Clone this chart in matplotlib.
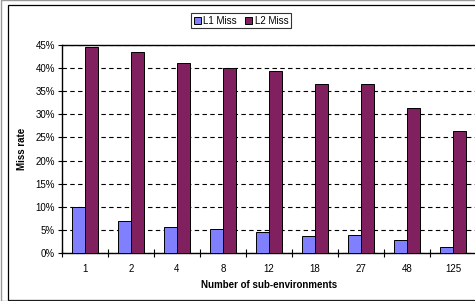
import numpy as np
import matplotlib.pyplot as plt
from matplotlib.patches import Rectangle

# values
categories = ["1", "2", "4", "8", "12", "18", "27", "48", "125"]
l1_miss = [10.0, 6.9, 5.6, 5.3, 4.5, 3.6, 3.8, 2.8, 1.4]
l2_miss = [44.6, 43.4, 41.2, 40.1, 39.4, 36.6, 36.6, 31.4, 26.5]
yticks = [0, 5, 10, 15, 20, 25, 30, 35, 40, 45]

plt.rcParams['font.family'] = ['Liberation Sans', 'DejaVu Sans']
plt.rcParams['font.size'] = 7

fig = plt.figure(figsize=(4.75, 3.01), dpi=100)
ax = fig.add_axes([62 / 475, 1 - 253 / 301, 414 / 475, 208 / 301])

x = np.arange(len(categories))
w = 0.28
ax.bar(x - w / 2, l1_miss, w, color="#8080FF", edgecolor="black", linewidth=0.7, label="L1 Miss", zorder=3)
ax.bar(x + w / 2, l2_miss, w, color="#80205F", edgecolor="black", linewidth=0.7, label="L2 Miss", zorder=3)

ax.set_xlim(-0.5, len(categories) - 0.5)
ax.set_ylim(0, 45)
ax.set_yticks(yticks)
ax.set_yticklabels([f"{v}%" for v in yticks])
ax.yaxis.grid(True, linestyle=(0, (4, 3)), color="black", linewidth=0.8, zorder=0)

# category labels in the middle, tick marks on the boundaries
ax.set_xticks(x)
ax.set_xticklabels(categories)
ax.tick_params(axis="x", length=0, pad=8)
ax.set_xticks(np.arange(len(categories) + 1) - 0.5, minor=True)
ax.tick_params(axis="x", which="minor", length=6, direction="inout", width=0.8)
ax.tick_params(axis="y", length=3, width=0.8, pad=2)

for side in ["right"]:
    ax.spines[side].set_visible(False)
for side in ["left", "bottom", "top"]:
    ax.spines[side].set_linewidth(1.0)

ax.set_xlabel("Number of sub-environments", fontweight="bold", labelpad=4)
ax.set_ylabel("Miss rate", fontweight="bold", labelpad=6)

leg = ax.legend(loc="center", bbox_to_anchor=(241 / 475, 1 - 20.5 / 301), bbox_transform=fig.transFigure,
                ncol=2, frameon=True, fancybox=False, edgecolor="black", handlelength=0.7, handleheight=0.7,
                handletextpad=0.3, columnspacing=0.8, borderpad=0.3, fontsize=7)
leg.get_frame().set_linewidth(0.8)

# outer chart frame
fig.patches.append(Rectangle((8 / 475, 1 / 301), 1.0, 295 / 301, transform=fig.transFigure,
                             fill=False, edgecolor="black", linewidth=0.9))
fig.patches.append(Rectangle((1 / 475, 0), 1.0, 1.0, transform=fig.transFigure,
                             fill=False, edgecolor="#999999", linewidth=1.0))

plt.savefig("out.png", dpi=100)
